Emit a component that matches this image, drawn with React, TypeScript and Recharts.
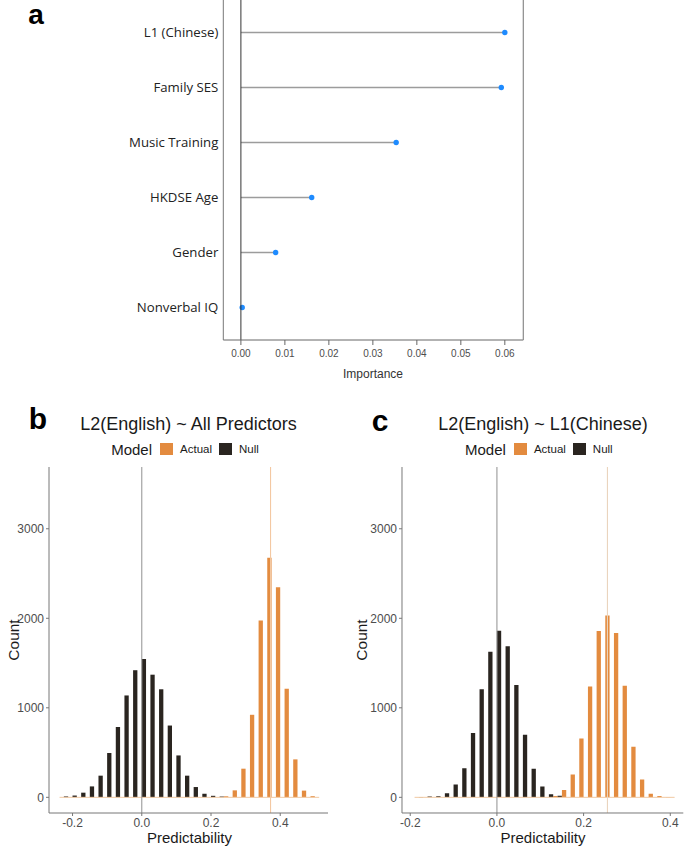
import React from 'react';
import { BarChart, Bar, XAxis, YAxis, ReferenceLine, Legend } from 'recharts';

// panel a: variable importance
const predictors = ['L1 (Chinese)', 'Family SES', 'Music Training', 'HKDSE Age', 'Gender', 'Nonverbal IQ'];
const importance = [0.06, 0.0592, 0.0353, 0.0161, 0.0079, 0.0003];
const importanceTicks = [0, 0.01, 0.02, 0.03, 0.04, 0.05, 0.06];

// panel b: L2(English) ~ All Predictors (bin centres, width 0.025)
const binsAll = [-0.225, -0.2, -0.175, -0.15, -0.125, -0.1, -0.075, -0.05, -0.025, 0, 0.025, 0.05, 0.075, 0.1, 0.125, 0.15, 0.175, 0.2, 0.225, 0.25, 0.275, 0.3, 0.325, 0.35, 0.375, 0.4, 0.425, 0.45, 0.475, 0.5];
const nullAll = [10, 20, 52, 122, 242, 495, 786, 1138, 1420, 1545, 1370, 1207, 802, 468, 242, 115, 40, 17, 9, 0, 0, 0, 0, 0, 0, 0, 0, 0, 0, 0];
const actualAll = [0, 0, 0, 0, 0, 0, 0, 0, 0, 0, 0, 0, 0, 0, 0, 0, 0, 0, 0, 12, 78, 320, 922, 1975, 2676, 2348, 1213, 424, 75, 13];
const meanAll = 0.372;

// panel c: L2(English) ~ L1(Chinese) (bin centres, width 0.02)
const binsL1 = [-0.18, -0.16, -0.14, -0.12, -0.1, -0.08, -0.06, -0.04, -0.02, 0, 0.02, 0.04, 0.06, 0.08, 0.1, 0.12, 0.14, 0.16, 0.18, 0.2, 0.22, 0.24, 0.26, 0.28, 0.3, 0.32, 0.34, 0.36, 0.38, 0.4];
const nullL1 = [5, 9, 13, 45, 143, 325, 718, 1206, 1627, 1862, 1688, 1256, 698, 318, 122, 34, 17, 0, 0, 0, 0, 0, 0, 0, 0, 0, 0, 0, 0, 0];
const actualL1 = [0, 0, 0, 0, 0, 0, 0, 0, 0, 0, 0, 0, 0, 0, 0, 0, 15, 81, 255, 658, 1238, 1858, 2032, 1835, 1247, 564, 200, 41, 15, 3];
const meanL1 = 0.255;

const predTicks = [-0.2, 0, 0.2, 0.4];
const countTicks = [0, 1000, 2000, 3000];

const ORANGE = '#E38B3F';
const DARK = '#2A2520';
const FONT = "'Liberation Sans', Arial, sans-serif";

const Lollipop = (props: any) => {
    const { x, y, width, height } = props;
    const cy = y + height / 2;
    return (
        <g>
            <line x1={x} y1={cy} x2={x + width} y2={cy} stroke="#9c9c9c" strokeWidth={1.6} />
            <circle cx={x + width} cy={cy} r={2.7} fill="#1E8BFF" />
        </g>
    );
};

const ModelLegend = (props: any) => {
    const { payload = [] } = props;
    return (
        <div style={{ display: 'flex', justifyContent: 'center', alignItems: 'center', color: '#1a1a1a', fontFamily: FONT, height: 18 }}>
            <span style={{ fontSize: 15, marginRight: 8 }}>Model</span>
            {payload.map((p: any) => (
                <React.Fragment key={p.value}>
                    <span style={{ display: 'inline-block', width: 13, height: 12, background: p.color, marginRight: 7 }} />
                    <span style={{ fontSize: 11.5, marginRight: 7 }}>{p.value}</span>
                </React.Fragment>
            ))}
        </div>
    );
};

function Txt({ x, y, size, children, bold = false, rotate = 0, color = '#1a1a1a', family = FONT }: any) {
    return (
        <div style={{
            position: 'absolute', left: x, top: y, transform: `translate(-50%, -50%) rotate(${rotate}deg)`,
            fontSize: size, fontWeight: bold ? 'bold' : 'normal', color, fontFamily: family, whiteSpace: 'nowrap', lineHeight: 1
        }}>{children}</div>
    );
}

interface HistProps {
    left: number;
    width: number;
    bins: number[];
    actual: number[];
    nulls: number[];
    domain: [number, number];
    mean: number;
    binWidth: number;
    lineColor: string;
}

function Histogram({ left, width, bins, actual, nulls, domain, mean, binWidth, lineColor }: HistProps) {
    const rows = bins.map((x, i) => ({ x, actual: actual[i], null: nulls[i] }));
    const first = bins[0] - binWidth / 2;
    const last = bins[bins.length - 1] + binWidth / 2;
    const plotW = width - 49 - 2;
    return (
        <div style={{ position: 'absolute', left, top: 400 }}>
            <BarChart width={width} height={433} data={rows} margin={{ top: 67, right: 2, bottom: 0, left: 0 }} barGap={0} barCategoryGap={0}>
                <XAxis dataKey="x" type="number" domain={domain} ticks={predTicks} allowDataOverflow
                    tickFormatter={(v: number) => v.toFixed(1)} height={20} tickSize={3} tickMargin={2}
                    stroke="#777" tick={{ fill: '#4d4d4d', fontSize: 12, fontFamily: FONT }} />
                <YAxis type="number" domain={[-175, 3690]} ticks={countTicks} allowDataOverflow width={49}
                    tickSize={3} tickMargin={2} stroke="#777" tick={{ fill: '#4d4d4d', fontSize: 12, fontFamily: FONT }} />
                <Legend verticalAlign="middle" align="center" layout="horizontal" content={ModelLegend}
                    wrapperStyle={{ top: 40, left: 49, width: plotW, bottom: 'auto' }} />
                <ReferenceLine segment={[{ x: first, y: 0 }, { x: last, y: 0 }]} stroke="#F1C9A3" strokeWidth={1} />
                <Bar dataKey="actual" name="Actual" fill={ORANGE} barSize={4.3} isAnimationActive={false} />
                <Bar dataKey="null" name="Null" fill={DARK} barSize={4.3} isAnimationActive={false} />
                <ReferenceLine x={0} stroke="#9a9a9a" strokeWidth={1.1} />
                <ReferenceLine x={mean} stroke={lineColor} strokeWidth={1.1} />
            </BarChart>
        </div>
    );
}

export default function App() {
    const rowsA = predictors.map((name, i) => ({ name, value: importance[i] }));
    return (
        <div style={{ position: 'absolute', left: 0, top: 0, width: 685, height: 847, overflow: 'hidden', background: '#fff', fontFamily: FONT }}>
            {/* panel a */}
            <div style={{ position: 'absolute', left: 0, top: -1 }}>
                <BarChart layout="vertical" width={530} height={386} data={rowsA} margin={{ top: 0, right: 5.7, bottom: 0, left: 0 }}>
                    <XAxis type="number" domain={[-0.004, 0.0642]} ticks={importanceTicks} allowDataOverflow
                        tickFormatter={(v: number) => v.toFixed(2)} height={45} tickSize={5} tickMargin={5}
                        stroke="#666" tick={{ fill: '#4d4d4d', fontSize: 10, fontFamily: FONT }} />
                    <YAxis yAxisId="l" type="category" dataKey="name" width={223.3} tickLine={false} tickSize={0} tickMargin={5}
                        padding={{ top: 5.5, bottom: 5.5 }} stroke="#777"
                        tick={{ fill: '#222', fontSize: 13.2, fontFamily: "'Open Sans', sans-serif" }} />
                    <YAxis yAxisId="r" orientation="right" type="category" dataKey="name" width={1} tick={false} tickLine={false}
                        padding={{ top: 5.5, bottom: 5.5 }} axisLine={{ stroke: '#8a8a8a', strokeWidth: 1.2 }} />
                    <ReferenceLine yAxisId="l" x={0} stroke="#333" strokeWidth={1} />
                    <Bar yAxisId="l" dataKey="value" barSize={10} shape={Lollipop} isAnimationActive={false} />
                </BarChart>
            </div>
            <Txt x={36} y={15} size={28} bold color="#000">a</Txt>
            <Txt x={373} y={374} size={12} color="#333">Importance</Txt>

            {/* panel b */}
            <Histogram left={0} width={330} bins={binsAll} actual={actualAll} nulls={nullAll}
                domain={[-0.268, 0.538]} mean={meanAll} binWidth={0.025} lineColor="#F3C8A2" />
            <Txt x={38} y={419} size={30} bold color="#000">b</Txt>
            <Txt x={188.5} y={424} size={18}>L2(English) ~ All Predictors</Txt>
            <Txt x={14} y={640} size={15.5} rotate={-90}>Count</Txt>
            <Txt x={189.5} y={837} size={15}>Predictability</Txt>

            {/* panel c */}
            <Histogram left={352.7} width={332.3} bins={binsL1} actual={actualL1} nulls={nullL1}
                domain={[-0.219, 0.43]} mean={meanL1} binWidth={0.02} lineColor="#EAD4BE" />
            <Txt x={380} y={421} size={30} bold color="#000">c</Txt>
            <Txt x={543} y={424} size={18}>L2(English) ~ L1(Chinese)</Txt>
            <Txt x={362} y={640} size={15.5} rotate={-90}>Count</Txt>
            <Txt x={543} y={837} size={15}>Predictability</Txt>
        </div>
    );
}
